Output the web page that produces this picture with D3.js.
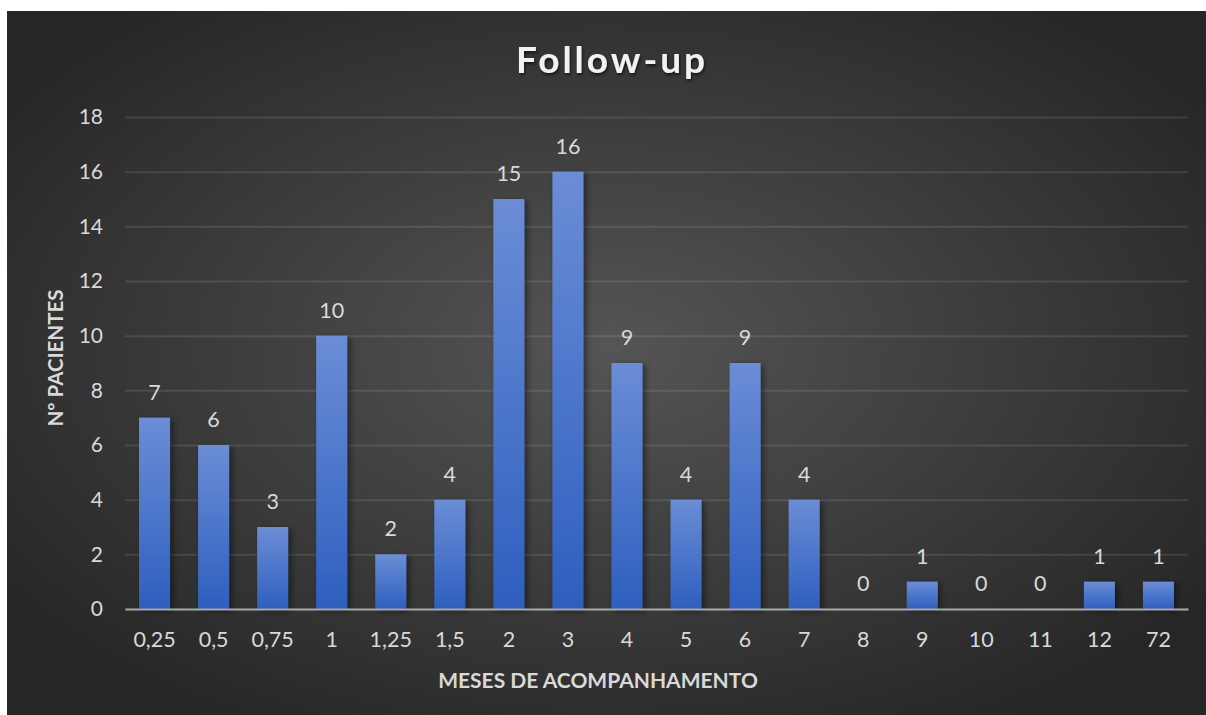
<!DOCTYPE html>
<html>
<head>
<meta charset="utf-8">
<script src="https://cdn.jsdelivr.net/npm/d3@7"></script>
<style>
  html, body { margin: 0; padding: 0; background: #ffffff; }
  svg { display: block; }
  text { font-family: Lato, "Open Sans", sans-serif; }
</style>
</head>
<body>
<svg id="chart" width="1206" height="715"></svg>
<script>
// Follow-up data: months of follow-up and number of patients
const categories = ["0,25", "0,5", "0,75", "1", "1,25", "1,5", "2", "3", "4", "5", "6", "7", "8", "9", "10", "11", "12", "72"];
const patients = [7, 6, 3, 10, 2, 4, 15, 16, 9, 4, 9, 4, 0, 1, 0, 0, 1, 1];
const yTicks = [0, 2, 4, 6, 8, 10, 12, 14, 16, 18];

const chartTitle = "Follow-up";
const xTitle = "MESES DE ACOMPANHAMENTO";
const yTitle = "Nº PACIENTES";

const svg = d3.select("#chart");
const defs = svg.append("defs");

// Dark radial background
const bg = defs.append("radialGradient").attr("id", "bgGrad")
  .attr("cx", "50%").attr("cy", "48%").attr("r", "62%");
bg.append("stop").attr("offset", "0%").attr("stop-color", "#555555");
bg.append("stop").attr("offset", "100%").attr("stop-color", "#262626");

// Bar fill gradient
const bar = defs.append("linearGradient").attr("id", "barGrad")
  .attr("x1", 0).attr("y1", 0).attr("x2", 0).attr("y2", 1);
bar.append("stop").attr("offset", "0%").attr("stop-color", "#6b8dd6");
bar.append("stop").attr("offset", "100%").attr("stop-color", "#2e5fbf");

const shadow = defs.append("filter").attr("id", "barShadow")
  .attr("x", "-30%").attr("y", "-10%").attr("width", "170%").attr("height", "130%");
shadow.append("feDropShadow").attr("dx", 3).attr("dy", 2).attr("stdDeviation", 3)
  .attr("flood-color", "#000").attr("flood-opacity", 0.45);

const titleShadow = defs.append("filter").attr("id", "titleShadow")
  .attr("x", "-10%").attr("y", "-30%").attr("width", "120%").attr("height", "160%");
titleShadow.append("feDropShadow").attr("dx", 1).attr("dy", 2).attr("stdDeviation", 1.5)
  .attr("flood-color", "#000").attr("flood-opacity", 0.6);

svg.append("rect").attr("x", 7).attr("y", 11).attr("width", 1199).attr("height", 704)
  .attr("fill", "url(#bgGrad)");

const plot = { left: 125, right: 1188, top: 117, bottom: 609 };

const x = d3.scaleBand().domain(categories)
  .range([plot.left, plot.right]).paddingInner(0.475).paddingOuter(0.2375);
const y = d3.scaleLinear().domain([0, 18]).range([plot.bottom, plot.top]);

// Gridlines + y tick labels
const yAxis = svg.append("g").attr("transform", `translate(${plot.left},0)`)
  .call(d3.axisLeft(y).tickValues(yTicks).tickSize(-(plot.right - plot.left)).tickPadding(22));
yAxis.select(".domain").remove();
yAxis.selectAll(".tick line").attr("stroke", "#ffffff").attr("stroke-opacity", 0.1).attr("stroke-width", 2);
yAxis.selectAll(".tick text").attr("fill", "#d9d9d9").attr("font-size", 21)
  .style("font-family", "Lato, sans-serif");

// Bars
svg.append("g").selectAll("rect").data(patients).join("rect")
  .attr("x", (d, i) => x(categories[i]))
  .attr("y", d => y(d))
  .attr("width", x.bandwidth())
  .attr("height", d => y(0) - y(d))
  .attr("fill", "url(#barGrad)")
  .attr("filter", "url(#barShadow)");

// Category axis
const xAxis = svg.append("g").attr("transform", `translate(0,${plot.bottom})`)
  .call(d3.axisBottom(x).tickSize(0).tickPadding(23));
xAxis.select(".domain").attr("stroke", "#a6a6a6").attr("stroke-width", 2.2);
xAxis.selectAll(".tick text").attr("fill", "#d9d9d9").attr("font-size", 21.5)
  .style("font-family", "Lato, sans-serif");

// Value labels
svg.append("g").selectAll("text").data(patients).join("text")
  .attr("x", (d, i) => x(categories[i]) + x.bandwidth() / 2)
  .attr("y", d => y(d) - 18)
  .attr("text-anchor", "middle")
  .attr("fill", "#d9d9d9").attr("font-size", 21.5)
  .text(d => d);

// Titles
svg.append("text").attr("x", 612).attr("y", 73).attr("text-anchor", "middle")
  .attr("fill", "#f2f2f2").attr("font-size", 37).attr("font-weight", 700)
  .attr("letter-spacing", 3).attr("filter", "url(#titleShadow)")
  .text(chartTitle);

svg.append("text").attr("x", 598).attr("y", 688).attr("text-anchor", "middle")
  .attr("fill", "#d9d9d9").attr("font-size", 21).attr("font-weight", 700)
  .text(xTitle);

svg.append("text").attr("transform", "translate(63,358) rotate(-90)")
  .attr("text-anchor", "middle")
  .attr("fill", "#d9d9d9").attr("font-size", 20.5).attr("font-weight", 700)
  .text(yTitle);
</script>
</body>
</html>
